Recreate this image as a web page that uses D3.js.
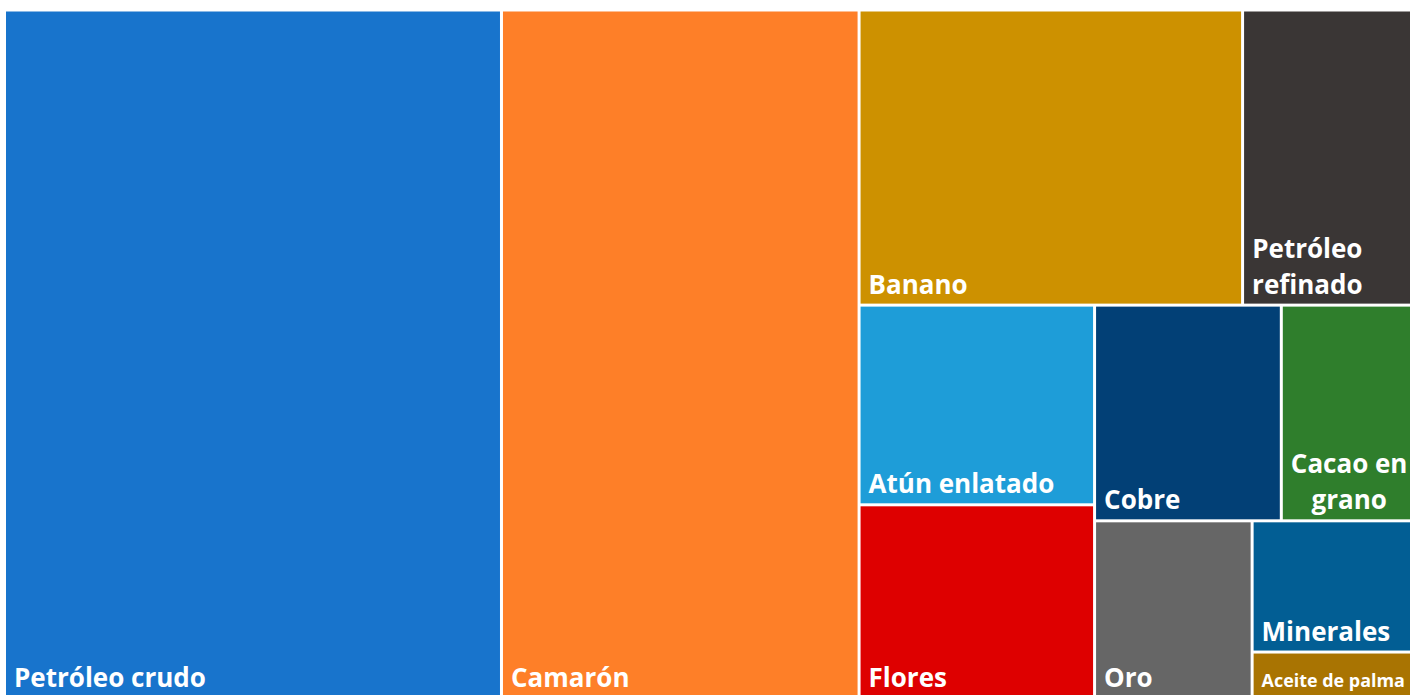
<!DOCTYPE html>
<html>
<head>
<meta charset="utf-8">
<script src="https://cdn.jsdelivr.net/npm/d3@7"></script>
<style>
  body { margin: 0; background: #fff; overflow: hidden; }
  svg { display: block; }
  .lbl { font-family: "Open Sans", "Noto Sans", sans-serif; font-weight: 700; fill: #fff; }
</style>
</head>
<body>
<svg id="chart" width="1410" height="695"></svg>
<script>
// exportaciones (valores estimados a partir de las áreas)
const products = ["Petróleo crudo", "Camarón", "Banano", "Petróleo refinado", "Atún enlatado",
    "Flores", "Cobre", "Cacao en grano", "Oro", "Minerales", "Aceite de palma"];
const values = [3398, 2445, 1124, 498, 467, 453, 400, 281, 278, 209, 74];
const colors = ["#1874cc", "#fe7f28", "#cd9100", "#3a3635", "#1e9dd8",
    "#de0000", "#024076", "#2f7e2c", "#666666", "#025e94", "#a97402"];

const svg = d3.select("#chart");
const box = {x0: 6, y0: 11.5, x1: 1411, y1: 697};
const baseFont = 26, lineH = 36, padX = 8, padB = 10;

let root = d3.hierarchy({children: products.map((p, i) => ({name: p, value: values[i], color: colors[i]}))})
    .sum(d => d.value || 0)
    .sort((a, b) => b.value - a.value);

d3.treemap()
    .tile(d3.treemapSquarify.ratio(1))
    .size([box.x1 - box.x0, box.y1 - box.y0])
    .paddingInner(3)(root);

let g = svg.append("g").attr("transform", "translate(" + box.x0 + "," + box.y0 + ")");

let cells = g.selectAll("g.cell")
    .data(root.leaves())
    .enter().append("g")
    .attr("class", "cell");

cells.append("rect")
    .attr("x", d => d.x0)
    .attr("y", d => d.y0)
    .attr("width", d => d.x1 - d.x0)
    .attr("height", d => d.y1 - d.y0)
    .attr("fill", d => d.data.color);

// medir texto
let measure = svg.append("text").attr("class", "lbl").attr("x", -1000).attr("y", -1000);
function textWidth(s, size) {
    measure.style("font-size", size + "px").text(s);
    return measure.node().getComputedTextLength();
}

cells.each(function (d) {
    let w = d.x1 - d.x0, h = d.y1 - d.y0;
    let avail = w - padX - 2;
    let size = baseFont;
    let lines = [d.data.name];
    if (textWidth(d.data.name, size) > avail) {
        // intentar partir en líneas
        let words = d.data.name.split(" ");
        let wrapped = [], cur = "";
        words.forEach(wd => {
            let test = cur ? cur + " " + wd : wd;
            if (cur && textWidth(test, size) > avail) {
                wrapped.push(cur);
                cur = wd;
            } else {
                cur = test;
            }
        });
        wrapped.push(cur);
        let fits = wrapped.every(l => textWidth(l, size) <= avail) && wrapped.length * lineH + padB <= h;
        if (fits) {
            lines = wrapped;
        } else {
            size = Math.min(baseFont, baseFont * (w - 14) / textWidth(d.data.name, baseFont));
        }
    }
    let blockW = d3.max(lines, l => textWidth(l, size));
    let t = d3.select(this).append("text")
        .attr("class", "lbl")
        .style("font-size", size + "px")
        .attr("text-anchor", "middle");
    lines.forEach((l, i) => {
        t.append("tspan")
            .attr("x", d.x0 + padX + blockW / 2)
            .attr("y", d.y1 - padB - (lines.length - 1 - i) * lineH)
            .text(l);
    });
});

measure.remove();
</script>
</body>
</html>
